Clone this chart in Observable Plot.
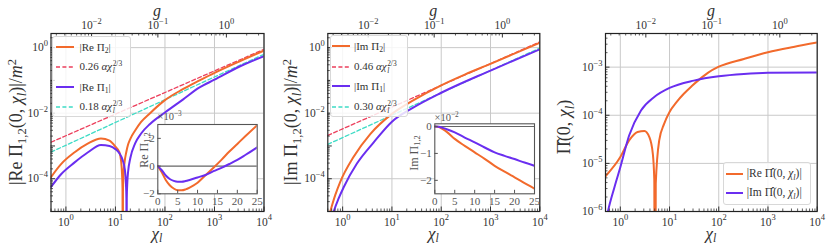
<!DOCTYPE html>
<html><head><meta charset="utf-8">
<script src="https://cdn.jsdelivr.net/npm/d3@7"></script>
<script src="https://cdn.jsdelivr.net/npm/@observablehq/plot@0.6"></script>
<style>
html,body{margin:0;padding:0;background:#fff;}
#root{position:relative;width:830px;height:247px;overflow:hidden;font-family:"Liberation Serif","DejaVu Serif",serif;color:#333;}
#root > svg{position:absolute;}
.t{position:absolute;white-space:nowrap;line-height:1;}
.rot{transform:translate(-50%,-50%) rotate(-90deg);}
.ctr{transform:translate(-50%,-50%);}
.lv{transform:translateY(-50%);}
.t sub{font-size:0.7em;vertical-align:-0.28em;line-height:0;}
.t sup{font-size:0.7em;vertical-align:0.5em;line-height:0;}
.ss{display:inline-flex;flex-direction:column;font-size:0.68em;line-height:1;vertical-align:0.62em;margin-left:0.5px;}
.leg{position:absolute;background:rgba(255,255,255,0.82);border:1px solid #d8d8d8;border-radius:3px;box-sizing:border-box;}
</style></head>
<body><div id="root"></div>
<script>
// ---------- data ----------
const CHI_DOMAIN = [0.5, 1e4];

// Panel 1: |Re Pi_2|, |Re Pi_1| and fits
const p1_re2_chi = [0.5,0.79,1.48,2.75,5.1,7.6,10,12,13,13.6,13.9,14.05,14.2,14.6,15.3,16.5,18,20,25,33,50,100,230,500,1000,3300,10000];
const p1_re2_val = [1.12e-4,2.75e-4,6.3e-4,1.17e-3,1.70e-3,1.45e-3,9.5e-4,6.5e-4,3.5e-4,1.4e-4,5e-5,1e-9,4.5e-5,1.4e-4,3.2e-4,6.3e-4,1.1e-3,1.65e-3,2.95e-3,5.4e-3,1.0e-2,2.5e-2,5.4e-2,0.10,0.17,0.39,0.81];
const p1_re1_chi = [0.5,0.79,1.48,2.75,5.1,7.6,10,12,14,15.5,16.3,16.65,16.8,16.95,17.4,18,20,25,33,50,100,230,500,1000,3300,10000];
const p1_re1_val = [5.6e-5,1.35e-4,3.1e-4,6.3e-4,1.07e-3,1.0e-3,8.0e-4,6.0e-4,3.7e-4,1.9e-4,7e-5,2.5e-5,1e-9,2.5e-5,8e-5,1.6e-4,4.3e-4,1.2e-3,2.4e-3,4.7e-3,1.05e-2,2.6e-2,6.1e-2,0.105,0.27,0.55];
const p1_fit2_chi = [0.5, 10000];
const p1_fit2_val = [1.3e-3, 0.89];
const p1_fit1_chi = [0.5, 10000];
const p1_fit1_val = [6.5e-4, 0.63];

// Panel 2: |Im Pi_2|, |Im Pi_1| and fits
const p2_im2_chi = [0.5,0.56,0.71,0.89,1.66,3.63,10,27.5,100,300,1000,10000];
const p2_im2_val = [5.6e-6,1e-5,3.2e-5,7.9e-5,4.6e-4,2.3e-3,9.5e-3,2.5e-2,7.1e-2,0.151,0.32,1.41];
const p2_im1_chi = [0.5,0.66,0.83,1.05,1.95,4.27,10,27.5,100,1000,10000];
const p2_im1_val = [2e-6,1e-5,2.5e-5,5.5e-5,2.9e-4,1.29e-3,5.5e-3,1.5e-2,4.2e-2,0.2,0.89];
const p2_fit2_chi = [0.5, 10000];
const p2_fit2_val = [2.1e-3, 1.5];
const p2_fit1_chi = [0.5, 10000];
const p2_fit1_val = [1.12e-3, 0.97];

// Panel 3: |Re Pi-hat|, |Im Pi-hat|
const p3_re_chi = [0.5,1,1.51,2.24,3.09,3.89,4.57,4.9,5.05,5.25,6.17,7.76,10,14,19.5,28,40,60,100,324,1000,3300,10000];
const p3_re_val = [5.4e-6,1.35e-5,3.0e-5,4.5e-5,4.7e-5,3.5e-5,1.6e-5,4.5e-6,1e-12,3.8e-6,3.0e-5,6.6e-5,1.17e-4,1.9e-4,2.8e-4,4.0e-4,5.5e-4,7.6e-4,1.02e-3,1.48e-3,2.04e-3,2.63e-3,3.24e-3];
const p3_im_chi = [0.5,0.56,0.76,1,1.51,2.63,4.9,10,31,100,324,1000,10000];
const p3_im_val = [5.6e-7,1e-6,3.2e-6,8.3e-6,3.8e-5,1.26e-4,2.4e-4,3.7e-4,5.25e-4,6.45e-4,7.2e-4,7.6e-4,7.75e-4];

// Insets (linear chi, values in displayed units)
const in1_chi = [0,1,2,3,4,5,6,7,8,10,12,14,16,18,20,22,25];
const in1_re2 = [0,-0.45,-1.0,-1.38,-1.62,-1.75,-1.75,-1.68,-1.55,-1.2,-0.66,-0.12,0.45,1.05,1.6,2.15,2.95];
const in1_re1 = [0,-0.3,-0.68,-0.93,-1.07,-1.13,-1.13,-1.08,-1.0,-0.82,-0.64,-0.37,-0.13,0.15,0.45,0.8,1.35];
const in2_chi = [0,1,2,3,5,7.5,10,12.5,15,17.5,20,22.5,25];
const in2_im2 = [0,-0.02,-0.1,-0.2,-0.46,-0.72,-0.96,-1.2,-1.46,-1.68,-1.89,-2.1,-2.31];
const in2_im1 = [0,-0.01,-0.05,-0.1,-0.22,-0.41,-0.59,-0.78,-0.96,-1.09,-1.21,-1.34,-1.46];

// ticks
const xMajor = [1,10,100,1000,10000];
const p12_yLabels = [1e-4,1e-2,1];
const p3_yLabels = [1e-6,1e-5,1e-4,1e-3];
const gTickChi = [3.3, 72, 1740];
const gTickLabel = ["10^−2","10^−1","10^0"];
const in1_yTicks = [-2,0,2];
const in2_yTicks = [-2,-1,0];
const inXTicks = [0,5,10,15,20,25];

// ---------- styling ----------
const C_OR = "#f26a2c", C_PU = "#6a2ef0", C_RED = "#ec3f5c", C_CY = "#3edcc6";
const FONT = "'Liberation Serif','DejaVu Serif',serif";
const root = document.getElementById("root");
const svgNS = "http://www.w3.org/2000/svg";

function decadeTicks(lo, hi, mult){
  const out=[];
  for(let e=Math.floor(Math.log10(lo))-1;e<=Math.ceil(Math.log10(hi));e++){
    for(const k of mult){const v=k*Math.pow(10,e); if(v>=lo*0.999 && v<=hi*1.001) out.push(v);}
  }
  return out;
}
const xMinor = decadeTicks(CHI_DOMAIN[0], CHI_DOMAIN[1], [2,3,4,5,6,7,8,9]);
// minor g ticks placed along the g-axis defined by the major g tick positions
const gLog0 = Math.log10(gTickChi[0]), gStep = (Math.log10(gTickChi[2])-gLog0)/2;
const gMinorChi = [];
for(let e=-3;e<=0;e++) for(let k=2;k<=9;k++){
  const lg = Math.log10(k)+e;
  const c = Math.pow(10, gLog0 + gStep*(lg+2));
  if(c>=CHI_DOMAIN[0] && c<=CHI_DOMAIN[1]) gMinorChi.push(c);
}
const pow = d => { const e=Math.round(Math.log10(d)); return "10^"+(e<0?"−"+(-e):String(e)); };

function fixSup(svg, supSize){
  svg.querySelectorAll("text").forEach(t=>{
    const s=t.textContent; const m=/^10\^(.+)$/.exec(s);
    if(m){
      t.textContent="10";
      const ts=document.createElementNS(svgNS,"tspan");
      ts.setAttribute("dy","-0.62em");
      ts.setAttribute("font-size",supSize+"px");
      ts.textContent=m[1];
      t.appendChild(ts);
    }
  });
}
const pts = (xs, ys) => xs.map((x,i)=>({x, y: ys[i]}));
const solid = (xs, ys, stroke) => Plot.line(pts(xs,ys), {x:"x", y:"y", stroke, strokeWidth:2, curve:"monotone-x", clip:true, strokeLinejoin:"round"});
const dashed = (xs, ys, stroke) => Plot.line(pts(xs,ys), {x:"x", y:"y", stroke, strokeWidth:1.3, strokeDasharray:"4,2.4", clip:true});

function place(svg, left, top){ svg.style.left=left+"px"; svg.style.top=top+"px"; root.appendChild(svg); }

function mainPanel({left, width, ml, mr, yDomain, yLabels, yMajor, yMinor, series}){
  const H=247, mt=33, mb=36; const fh=H-mt-mb, fw=width-ml-mr;
  const svg = Plot.plot({
    width, height:H, marginLeft:ml, marginRight:mr, marginTop:mt, marginBottom:mb,
    x:{type:"log", domain:CHI_DOMAIN},
    y:{type:"log", domain:yDomain},
    style:{fontFamily:FONT, fontSize:"11.5px", color:"#333", background:"transparent", overflow:"visible"},
    marks:[
      Plot.gridX(xMajor, {stroke:"#c9c9c9", strokeOpacity:1, strokeWidth:1}),
      Plot.gridY(yLabels, {stroke:"#c9c9c9", strokeOpacity:1, strokeWidth:1}),
      ...series,
      Plot.ruleX(xMajor, {insetTop:fh-4.5, stroke:"#333", strokeWidth:1}),
      Plot.ruleX(xMinor, {insetTop:fh-2.5, stroke:"#333", strokeWidth:0.8}),
      Plot.ruleY(yMajor, {insetRight:fw-4.5, stroke:"#333", strokeWidth:1}),
      Plot.ruleY(yMinor, {insetRight:fw-2.5, stroke:"#333", strokeWidth:0.8}),
      Plot.ruleX(gTickChi, {insetBottom:fh-4.5, stroke:"#333", strokeWidth:1}),
      Plot.ruleX(gMinorChi, {insetBottom:fh-2.5, stroke:"#333", strokeWidth:0.8}),
      Plot.axisX(xMajor, {anchor:"bottom", tickSize:0, tickPadding:6, tickFormat:pow, label:null}),
      Plot.axisY(yLabels, {anchor:"left", tickSize:0, tickPadding:3, tickFormat:pow, label:null}),
      Plot.text(gTickChi, {x:d=>d, y:()=>yDomain[1], dy:-8, lineAnchor:"middle", text:(d,i)=>gTickLabel[i], fill:"#333", fontSize:11.5}),
      Plot.frame({stroke:"#222", strokeWidth:1.2})
    ]
  });
  fixSup(svg, 8.5);
  place(svg, left, 0);
}

function inset({left, top, ml, mr, mt, mb, yDomain, yTicks, series}){
  const W=140, H=105; const fh=H-mt-mb, fw=W-ml-mr;
  const svg = Plot.plot({
    width:W, height:H, marginLeft:ml, marginRight:mr, marginTop:mt, marginBottom:mb,
    x:{domain:[0,25]}, y:{domain:yDomain},
    style:{fontFamily:FONT, fontSize:"11px", color:"#555", background:"transparent", overflow:"visible"},
    marks:[
      Plot.frame({fill:"white", stroke:null}),
      Plot.ruleY([0], {stroke:"#666", strokeWidth:1.2}),
      ...series,
      Plot.ruleX(inXTicks, {insetTop:fh-3.5, stroke:"#555"}),
      Plot.ruleY(yTicks, {insetRight:fw-3.5, stroke:"#555"}),
      Plot.axisX(inXTicks, {anchor:"bottom", tickSize:0, tickPadding:3, label:null}),
      Plot.axisY(yTicks, {anchor:"left", tickSize:0, tickPadding:3, label:null}),
      Plot.frame({stroke:"#555", strokeWidth:1.1})
    ]
  });
  place(svg, left, top);
}

function text(html, x, y, cls, size, color){
  const d=document.createElement("div"); d.className="t "+cls;
  d.style.left=x+"px"; d.style.top=y+"px"; d.style.fontSize=size+"px";
  if(color) d.style.color=color;
  d.innerHTML=html; root.appendChild(d); return d;
}
function legend(box, lineX, textX, size, items){
  const b=document.createElement("div"); b.className="leg";
  Object.assign(b.style,{left:box[0]+"px",top:box[1]+"px",width:box[2]+"px",height:box[3]+"px"});
  root.appendChild(b);
  items.forEach(it=>{
    const s=document.createElementNS(svgNS,"svg");
    s.setAttribute("width",lineX[1]-lineX[0]); s.setAttribute("height",6);
    s.style.position="absolute"; s.style.left=lineX[0]+"px"; s.style.top=(it.y-3)+"px";
    const l=document.createElementNS(svgNS,"line");
    l.setAttribute("x1",0); l.setAttribute("x2",lineX[1]-lineX[0]); l.setAttribute("y1",3); l.setAttribute("y2",3);
    l.setAttribute("stroke",it.color); l.setAttribute("stroke-width",it.dash?1.3:2);
    if(it.dash) l.setAttribute("stroke-dasharray","4,2.4");
    s.appendChild(l); root.appendChild(s);
    text(it.html, textX, it.y, "lv", size, "#333");
  });
}

// ---------- panels ----------
const p12Major = decadeTicks(1e-5, 2.7, [1]);
const p12Minor = decadeTicks(1e-5, 2.7, [2,3,4,5,6,7,8,9]);
mainPanel({left:0, width:280, ml:50.5, mr:16.5, yDomain:[1e-5,2.7], yLabels:p12_yLabels, yMajor:p12Major, yMinor:p12Minor,
  series:[dashed(p1_fit2_chi,p1_fit2_val,C_RED), dashed(p1_fit1_chi,p1_fit1_val,C_CY), solid(p1_re2_chi,p1_re2_val,C_OR), solid(p1_re1_chi,p1_re1_val,C_PU)]});
mainPanel({left:280, width:270, ml:47.3, mr:10.7, yDomain:[1e-5,2.7], yLabels:p12_yLabels, yMajor:p12Major, yMinor:p12Minor,
  series:[dashed(p2_fit2_chi,p2_fit2_val,C_RED), dashed(p2_fit1_chi,p2_fit1_val,C_CY), solid(p2_im2_chi,p2_im2_val,C_OR), solid(p2_im1_chi,p2_im1_val,C_PU)]});
mainPanel({left:550, width:280, ml:55, mr:13.3, yDomain:[1e-6,5e-3], yLabels:p3_yLabels, yMajor:decadeTicks(1e-6,5e-3,[1]), yMinor:decadeTicks(1e-6,5e-3,[2,3,4,5,6,7,8,9]),
  series:[solid(p3_re_chi,p3_re_val,C_OR), solid(p3_im_chi,p3_im_val,C_PU)]});

inset({left:122, top:108, ml:35.3, mr:5.3, mt:16, mb:19.7, yDomain:[-2,3], yTicks:in1_yTicks,
  series:[solid(in1_chi,in1_re2,C_OR), solid(in1_chi,in1_re1,C_PU)]});
inset({left:400, top:108, ml:34.3, mr:6, mt:15.3, mb:19.7, yDomain:[-2.5,0.1], yTicks:in2_yTicks,
  series:[solid(in2_chi,in2_im2,C_OR), solid(in2_chi,in2_im1,C_PU)]});

// ---------- titles ----------
const chiL = "<i>χ</i><sub><i>l</i></sub>";
const hatPi = "Π\u0302";
text("|Re Π<sub>1,2</sub>(0, "+chiL+")|/<i>m</i><sup>2</sup>", 15.5, 122, "rot", 18);
text("|Im Π<sub>1,2</sub>(0, "+chiL+")|/<i>m</i><sup>2</sup>", 291, 122, "rot", 18);
text(hatPi+"(0, "+chiL+")", 564, 127, "rot", 18);
[157, 433.3, 711].forEach(cx=>{
  text(chiL, cx, 233, "ctr", 17);
  text("<i>g</i>", cx, 10.5, "ctr", 16);
});
text("Re Π<sub>1,2</sub>", 143.5, 150, "rot", 12, "#555");
text("Im Π<sub>1,2</sub>", 414, 153, "rot", 12, "#555");
text("×10<sup>−3</sup>", 157.5, 117, "lv", 10.5, "#555");
text("×10<sup>−2</sup>", 434.5, 117.5, "lv", 10.5, "#555");

// ---------- legends ----------
const aChi = (c) => c+" <i>αχ</i><span class=\"ss\"><span>2/3</span><span><i>l</i></span></span>";
legend([52,36,79,81],[55.5,74],79.5,11,[
  {y:46.5, color:C_OR, html:"|Re Π<sub>2</sub>|"},
  {y:67, color:C_RED, dash:true, html:aChi("0.26")},
  {y:86.5, color:C_PU, html:"|Re Π<sub>1</sub>|"},
  {y:107, color:C_CY, dash:true, html:aChi("0.18")}
]);
legend([330,35,78,82],[332,350],354,11,[
  {y:46, color:C_OR, html:"|Im Π<sub>2</sub>|"},
  {y:66.5, color:C_RED, dash:true, html:aChi("0.46")},
  {y:86, color:C_PU, html:"|Im Π<sub>1</sub>|"},
  {y:107, color:C_CY, dash:true, html:aChi("0.30")}
]);
legend([722.7,161.7,88.3,43.3],[726,743.3],746.7,11.5,[
  {y:174, color:C_OR, html:"|Re "+hatPi+"(0, "+chiL+")|"},
  {y:193.3, color:C_PU, html:"|Im "+hatPi+"(0, "+chiL+")|"}
]);
</script></body></html>
